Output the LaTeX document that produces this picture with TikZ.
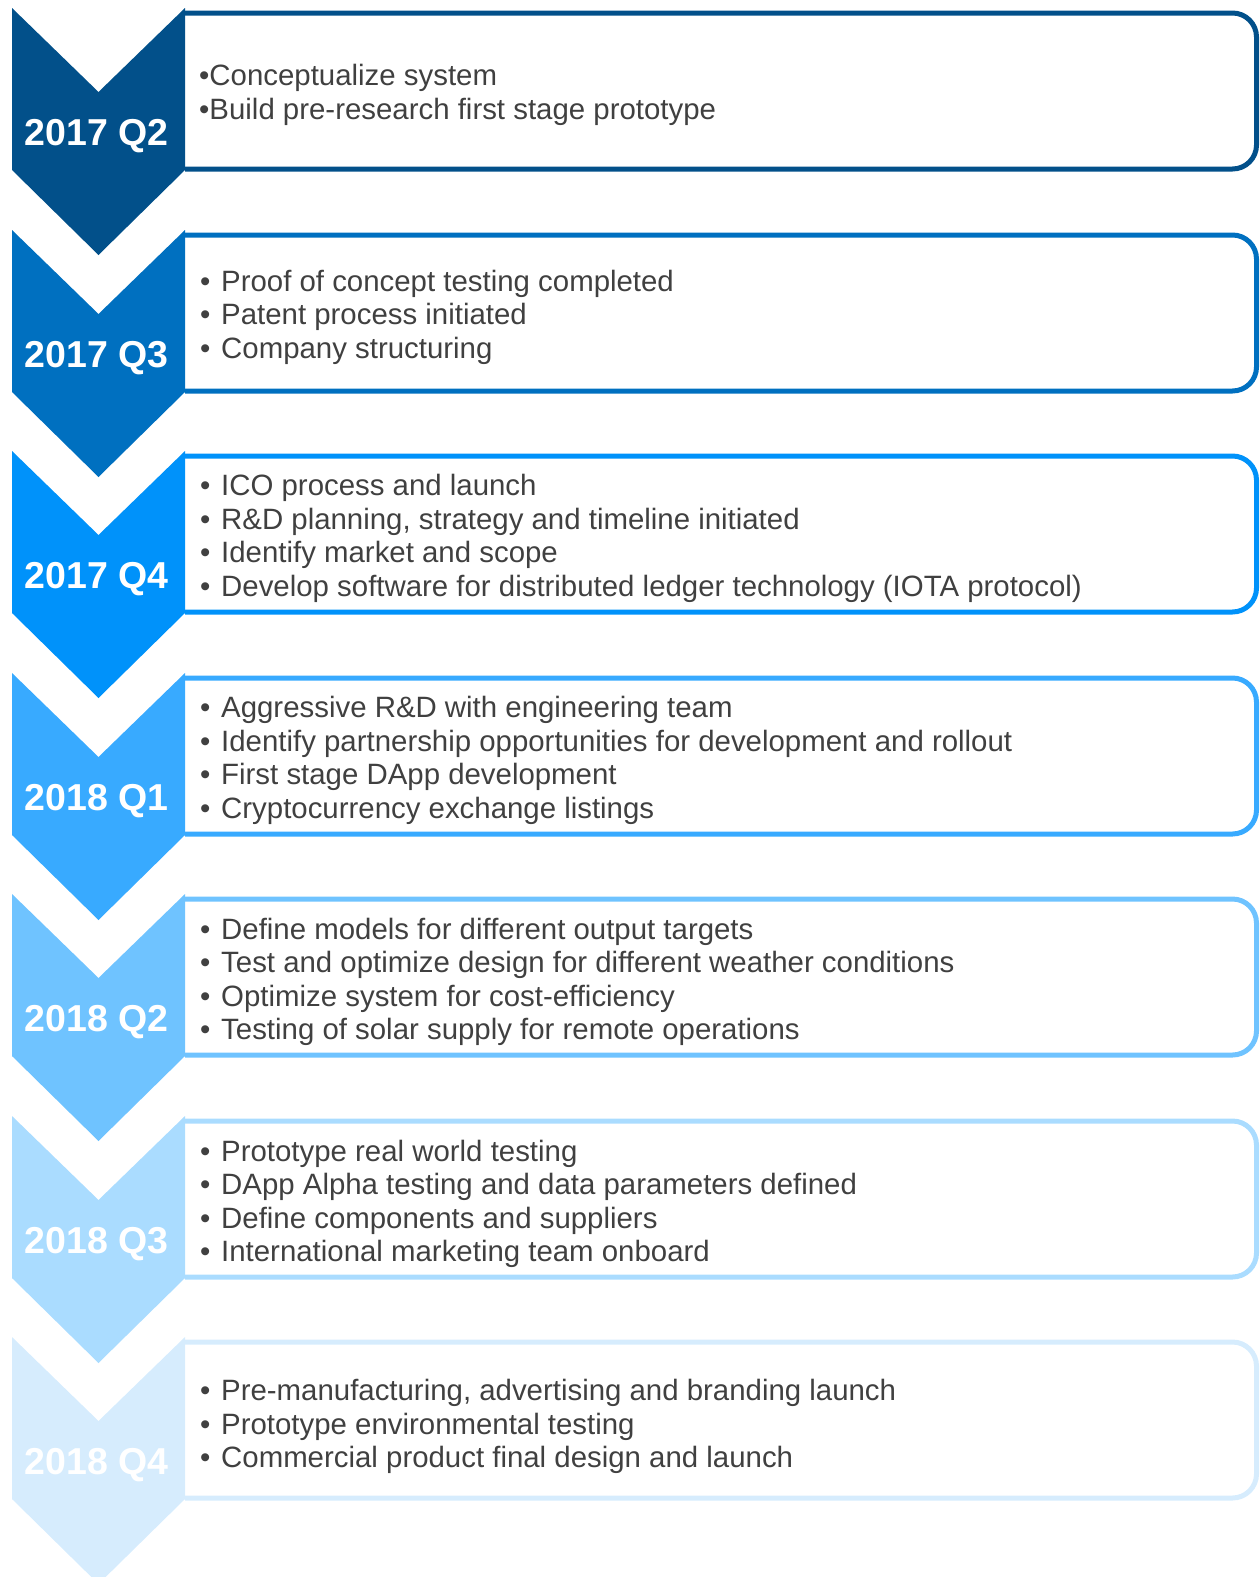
\documentclass[tikz,border=0pt]{standalone}
\usepackage{fontspec}
\setmainfont{Liberation Sans}
\usepackage{tikz}

% quarter colours, dark to light
\definecolor{qtrA}{RGB}{2,80,138}
\definecolor{qtrB}{RGB}{0,112,192}
\definecolor{qtrC}{RGB}{0,146,250}
\definecolor{qtrD}{RGB}{56,170,255}
\definecolor{qtrE}{RGB}{111,195,255}
\definecolor{qtrF}{RGB}{170,220,255}
\definecolor{qtrG}{RGB}{214,236,253}
\definecolor{itemgray}{RGB}{64,64,64}

\tikzset{
  chevron/.style={fill=#1},
  stagebox/.style={draw=#1, line width=5pt, rounded corners=24pt},
  yearlabel/.style={
    text=white, inner sep=0pt,
    font=\fontsize{37.5}{40}\selectfont\bfseries
  },
  itemlist/.style={
    anchor=west, align=left, inner sep=0pt, text=itemgray,
    font=\fontsize{29.4}{33.5}\selectfont,
    execute at begin node=\strut, execute at end node=\strut
  },
}
\newcommand{\itm}{\makebox[21pt][l]{•}}

\begin{document}
\begin{tikzpicture}[x=1pt, y=-1pt]
  \useasboundingbox (0,0) rectangle (1260,1577);
  \clip (0,0) rectangle (1260,1577);

  % 2017 Q2
  \begin{scope}[shift={(0,8)}]
    \draw[stagebox=qtrA] (185,5) -- (1256.5,5) -- (1256.5,161) -- (185,161);
    \fill[chevron=qtrA] (12,0) -- (98.5,84) -- (185,0) -- (185,162) -- (98.5,247) -- (12,162) -- cycle;
    \node[yearlabel] (yr1) at (96.5,128) {2017 Q2};
    \node[itemlist] (list1) at (199,89)
      {•Conceptualize system\\•Build pre-research first stage prototype};
  \end{scope}

  % 2017 Q3
  \begin{scope}[shift={(0,230)}]
    \draw[stagebox=qtrB] (185,5) -- (1256.5,5) -- (1256.5,161) -- (185,161);
    \fill[chevron=qtrB] (12,0) -- (98.5,84) -- (185,0) -- (185,162) -- (98.5,247) -- (12,162) -- cycle;
    \node[yearlabel] (yr2) at (96.5,128) {2017 Q3};
    \node[itemlist] (list2) at (200,89)
      {\itm Proof of concept testing completed\\
       \itm Patent process initiated\\
       \itm Company structuring};
  \end{scope}

  % 2017 Q4
  \begin{scope}[shift={(0,451)}]
    \draw[stagebox=qtrC] (185,5) -- (1256.5,5) -- (1256.5,161) -- (185,161);
    \fill[chevron=qtrC] (12,0) -- (98.5,84) -- (185,0) -- (185,162) -- (98.5,247) -- (12,162) -- cycle;
    \node[yearlabel] (yr3) at (96.5,128) {2017 Q4};
    \node[itemlist] (list3) at (200,89.5)
      {\itm ICO process and launch\\
       \itm R\&D planning, strategy and timeline initiated\\
       \itm Identify market and scope\\
       \itm Develop software for distributed ledger technology (IOTA protocol)};
  \end{scope}

  % 2018 Q1
  \begin{scope}[shift={(0,673)}]
    \draw[stagebox=qtrD] (185,5) -- (1256.5,5) -- (1256.5,161) -- (185,161);
    \fill[chevron=qtrD] (12,0) -- (98.5,84) -- (185,0) -- (185,162) -- (98.5,247) -- (12,162) -- cycle;
    \node[yearlabel] (yr4) at (96.5,128) {2018 Q1};
    \node[itemlist] (list4) at (200,89.5)
      {\itm Aggressive R\&D with engineering team\\
       \itm Identify partnership opportunities for development and rollout\\
       \itm First stage DApp development\\
       \itm Cryptocurrency exchange listings};
  \end{scope}

  % 2018 Q2
  \begin{scope}[shift={(0,894)}]
    \draw[stagebox=qtrE] (185,5) -- (1256.5,5) -- (1256.5,161) -- (185,161);
    \fill[chevron=qtrE] (12,0) -- (98.5,84) -- (185,0) -- (185,162) -- (98.5,247) -- (12,162) -- cycle;
    \node[yearlabel] (yr5) at (96.5,128) {2018 Q2};
    \node[itemlist] (list5) at (200,90)
      {\itm Define models for different output targets\\
       \itm Test and optimize design for different weather conditions\\
       \itm Optimize system for cost-efficiency\\
       \itm Testing of solar supply for remote operations};
  \end{scope}

  % 2018 Q3
  \begin{scope}[shift={(0,1116)}]
    \draw[stagebox=qtrF] (185,5) -- (1256.5,5) -- (1256.5,161) -- (185,161);
    \fill[chevron=qtrF] (12,0) -- (98.5,84) -- (185,0) -- (185,162) -- (98.5,247) -- (12,162) -- cycle;
    \node[yearlabel] (yr6) at (96.5,128) {2018 Q3};
    \node[itemlist] (list6) at (200,90)
      {\itm Prototype real world testing\\
       \itm DApp Alpha testing and data parameters defined\\
       \itm Define components and suppliers\\
       \itm International marketing team onboard};
  \end{scope}

  % 2018 Q4
  \begin{scope}[shift={(0,1337)}]
    \draw[stagebox=qtrG] (185,5) -- (1256.5,5) -- (1256.5,161) -- (185,161);
    \fill[chevron=qtrG] (12,0) -- (98.5,84) -- (185,0) -- (185,162) -- (98.5,247) -- (12,162) -- cycle;
    \node[yearlabel] (yr7) at (96.5,128) {2018 Q4};
    \node[itemlist] (list7) at (200,91.5)
      {\itm Pre-manufacturing, advertising and branding launch\\
       \itm Prototype environmental testing\\
       \itm Commercial product final design and launch};
  \end{scope}
\end{tikzpicture}
\end{document}
